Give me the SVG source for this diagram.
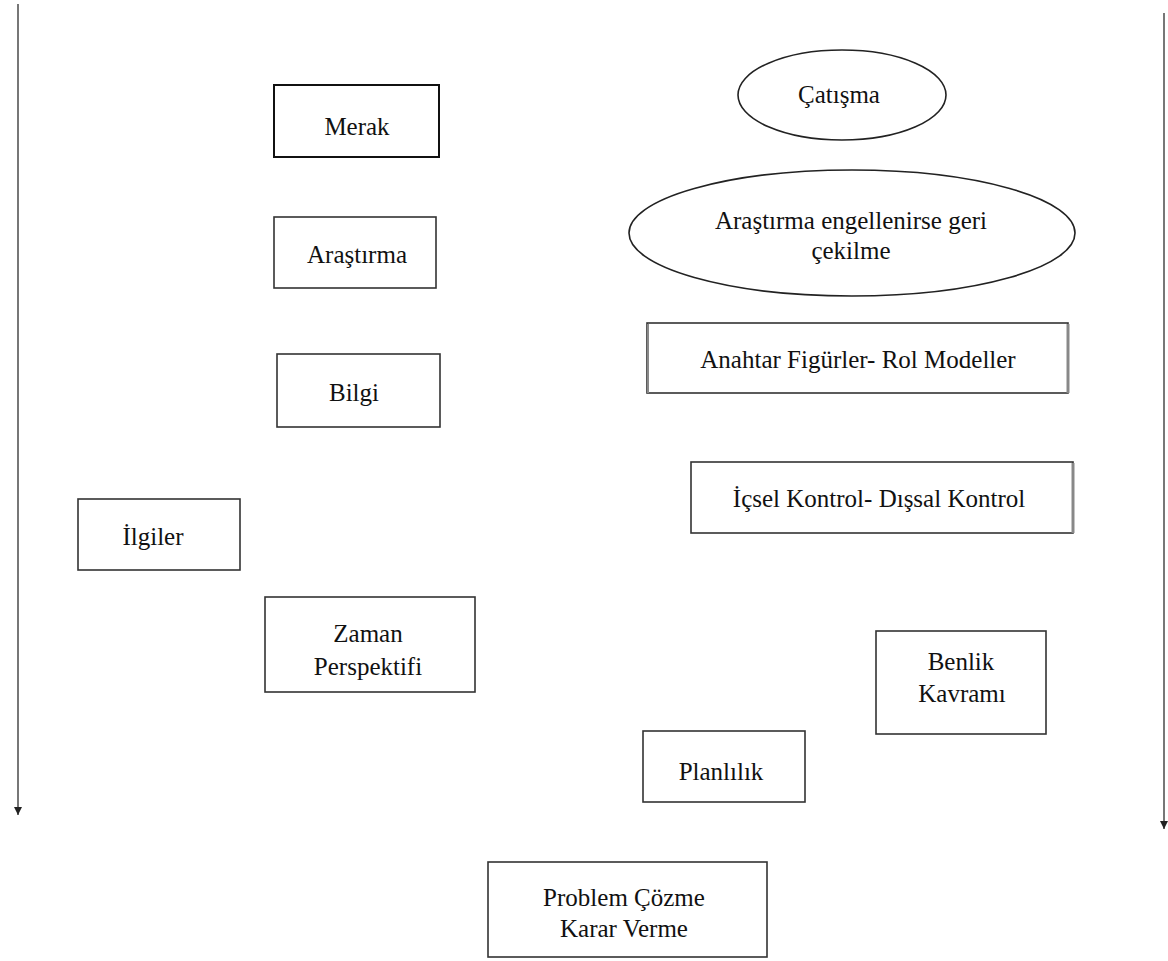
<svg xmlns="http://www.w3.org/2000/svg" width="1168" height="961" viewBox="0 0 1168 961">
<style>
.box{fill:#fff;stroke:#333;stroke-width:1.6}
.ell{fill:#fff;stroke:#222;stroke-width:1.6}
.shadow{stroke:#888;stroke-width:3}
text{font-family:"Liberation Serif","Times New Roman",serif;font-size:25px;fill:#111;text-anchor:middle}
.ln{stroke:#555;stroke-width:1.6;fill:none}
</style>
<defs>
<marker id="ah" viewBox="0 0 10 10" refX="10" refY="5" markerWidth="8" markerHeight="8" markerUnits="userSpaceOnUse" orient="auto">
<path d="M0,0 L10,5 L0,10 z" fill="#222"/>
</marker>
</defs>
<rect width="1168" height="961" fill="#fff"/>
<g id="connectors">
<line class="ln" x1="18" y1="4" x2="18" y2="815" marker-end="url(#ah)"/>
<line class="ln" x1="1164" y1="13" x2="1164" y2="829" marker-end="url(#ah)"/>
</g>
<g id="merak"><rect class="box" x="274" y="85" width="165" height="72" style="stroke:#111;stroke-width:2"/><text x="357" y="135">Merak</text></g>
<g id="arastirma"><rect class="box" x="274" y="217" width="162" height="71"/><text x="357" y="263">Araştırma</text></g>
<g id="bilgi"><rect class="box" x="277" y="354" width="163" height="73"/><text x="354" y="401">Bilgi</text></g>
<g id="ilgiler"><rect class="box" x="78" y="499" width="162" height="71"/><text x="153" y="545">İlgiler</text></g>
<g id="zaman"><rect class="box" x="265" y="597" width="210" height="95"/><text x="368" y="642">Zaman</text><text x="368" y="675">Perspektifi</text></g>
<g id="catisma"><ellipse class="ell" cx="842" cy="95" rx="104" ry="45"/><text x="839" y="103">Çatışma</text></g>
<g id="geri-cekilme"><ellipse class="ell" cx="852" cy="233" rx="223" ry="63"/><text x="851" y="229">Araştırma engellenirse geri</text><text x="851" y="259">çekilme</text></g>
<g id="anahtar"><rect class="box" x="647" y="323" width="421" height="70"/><line class="shadow" x1="1068" y1="324" x2="1068" y2="393"/><line class="shadow" x1="648" y1="324" x2="648" y2="393" style="stroke-width:2"/><text x="858" y="368">Anahtar Figürler- Rol Modeller</text></g>
<g id="icsel"><rect class="box" x="691" y="462" width="382" height="71"/><line class="shadow" x1="1073" y1="463" x2="1073" y2="533"/><text x="879" y="507">İçsel Kontrol- Dışsal Kontrol</text></g>
<g id="benlik"><rect class="box" x="876" y="631" width="170" height="103"/><text x="961" y="670">Benlik</text><text x="962" y="702">Kavramı</text></g>
<g id="planlilik"><rect class="box" x="643" y="731" width="162" height="71"/><text x="721" y="780">Planlılık</text></g>
<g id="problem"><rect class="box" x="488" y="862" width="279" height="95"/><text x="624" y="906">Problem Çözme</text><text x="624" y="937">Karar Verme</text></g>
</svg>
